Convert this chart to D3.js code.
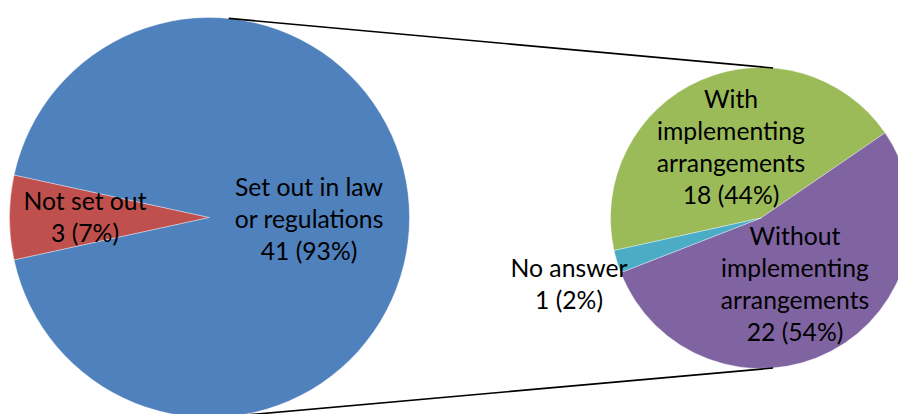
<!DOCTYPE html>
<html>
<head>
<meta charset="utf-8">
<script src="https://cdn.jsdelivr.net/npm/d3@7"></script>
<style>
html,body{margin:0;padding:0;background:#fff;}
svg{display:block;}
</style>
</head>
<body>
<svg id="chart" width="898" height="414"></svg>
<script>
// ---- data ----
const mainCategories = ["Not set out", "Set out in law or regulations"];
const mainValues = [3, 41];
const mainLabelLines = [["Not set out"], ["Set out in law", "or regulations"]];
const subCategories = ["With implementing arrangements", "Without implementing arrangements", "No answer"];
const subValues = [18, 22, 1];
const subLabelLines = [["With", "implementing", "arrangements"], ["Without", "implementing", "arrangements"], ["No answer"]];

// ---- layout / style ----
const W = 898, H = 414;
const mainColors = ["#C0504D", "#4F81BD"];
const subColors = ["#9BBB59", "#8064A2", "#4BACC6"];
const main = {cx: 209.5, cy: 217.5, r: 200};
const sub = {cx: 761, cy: 218, r: 150.5};
const deg = Math.PI / 180;
const mainLabelPos = [{x: 85, y: 210}, {x: 309, y: 195.5}];
const subLabelPos = [{x: 731, y: 108}, {x: 795, y: 245}, {x: 569, y: 277}];
const lineH = 32;
const fontFamily = "Lato, 'Open Sans', sans-serif";

const svg = d3.select("#chart");

// fit font size so that "implementing" is ~148px wide (Calibri 18pt look)
const probe = svg.append("text").attr("font-family", fontFamily).attr("font-size", 24).text("implementing");
const pw = probe.node().getComputedTextLength();
probe.remove();
const fontSize = 24 * 148 / pw;

const mainTotal = d3.sum(mainValues);
const subTotal = d3.sum(subValues);

// main pie: red slice centred at 9 o'clock
const redSpan = mainValues[0] / mainTotal * 2 * Math.PI;
const mainStart = 270 * deg - redSpan / 2;
const mainPie = d3.pie().sort(null).startAngle(mainStart).endAngle(mainStart + 2 * Math.PI);
const mainArcs = mainPie(mainValues);
const mainArc = d3.arc().innerRadius(0).outerRadius(main.r);

const gMain = svg.append("g").attr("transform", `translate(${main.cx},${main.cy})`);
gMain.selectAll("path").data(mainArcs).join("path")
  .attr("d", mainArc)
  .attr("fill", (d, i) => mainColors[i])
  .attr("stroke", "#ffffff").attr("stroke-opacity", 0.6).attr("stroke-width", 0.6);

// secondary pie
const subStart = 257.5 * deg;
const subPie = d3.pie().sort(null).startAngle(subStart).endAngle(subStart + 2 * Math.PI);
const subArcs = subPie(subValues);
const subArc = d3.arc().innerRadius(0).outerRadius(sub.r);
const gSub = svg.append("g").attr("transform", `translate(${sub.cx},${sub.cy})`);
gSub.selectAll("path").data(subArcs).join("path")
  .attr("d", subArc)
  .attr("fill", (d, i) => subColors[i])
  .attr("stroke", "#ffffff").attr("stroke-opacity", 0.6).attr("stroke-width", 0.6);

// connector lines
function pt(c, a) { return [c.cx + c.r * Math.sin(a), c.cy - c.r * Math.cos(a)]; }
const connectors = [
  [pt(main, 5.5 * deg), pt(sub, 4.6 * deg)],
  [pt(main, 174.5 * deg), pt(sub, 175.4 * deg)]
];
svg.append("g").selectAll("line").data(connectors).join("line")
  .attr("x1", d => d[0][0]).attr("y1", d => d[0][1])
  .attr("x2", d => d[1][0]).attr("y2", d => d[1][1])
  .attr("stroke", "#000").attr("stroke-width", 1.6);

// labels
function drawLabel(lines, pos) {
  const t = svg.append("text")
    .attr("font-family", fontFamily).attr("font-size", fontSize)
    .attr("fill", "#000").attr("text-anchor", "middle");
  lines.forEach((l, i) => {
    t.append("tspan").attr("x", pos.x).attr("y", pos.y + i * lineH).text(l);
  });
}
mainValues.forEach((v, i) => {
  const pct = Math.round(v / mainTotal * 100);
  drawLabel(mainLabelLines[i].concat([`${v} (${pct}%)`]), mainLabelPos[i]);
});
subValues.forEach((v, i) => {
  const pct = Math.round(v / subTotal * 100);
  drawLabel(subLabelLines[i].concat([`${v} (${pct}%)`]), subLabelPos[i]);
});
</script>
</body>
</html>
